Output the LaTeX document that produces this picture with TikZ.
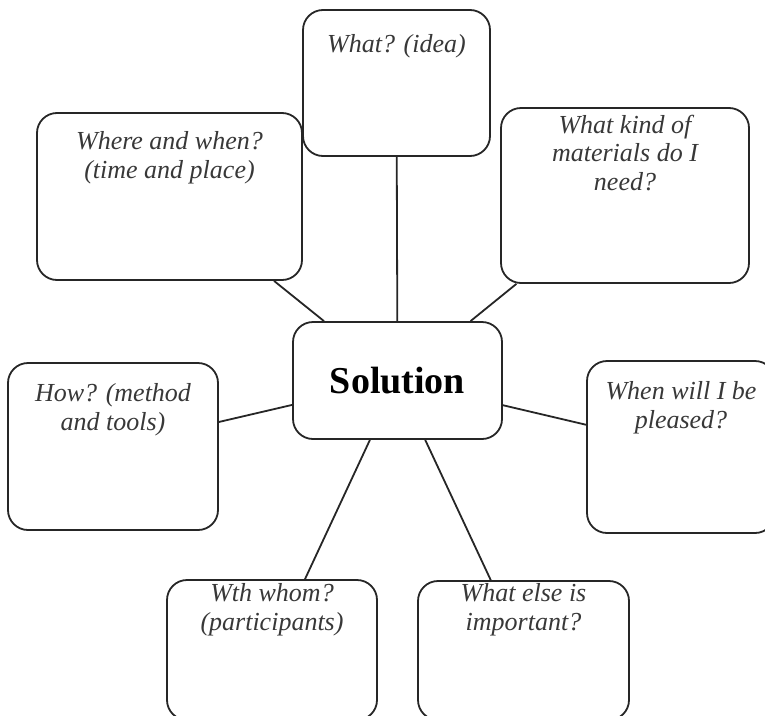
\documentclass[tikz,border=0pt]{standalone}
\usepackage{fontspec}
\newfontfamily\headfont{Liberation Serif}
\begin{document}
\begin{tikzpicture}[x=1pt,y=-1pt,
  qbox/.style={draw=black!85, line width=1.8pt, fill=white, rounded corners=20pt,
    rectangle, inner sep=0pt},
  qtext/.style={anchor=base, align=center, inner sep=0pt, text=black!78,
    font=\headfont\itshape\fontsize{26}{28.5}\selectfont},
  link/.style={draw=black!85, line width=1.8pt}]
\useasboundingbox (0,0) rectangle (765,715);
\clip (0,0) rectangle (765,715);

% centre and question boxes
\node[qbox, minimum width=209pt, minimum height=117pt,
      font=\headfont\bfseries\fontsize{38}{40}\selectfont] (sol) at (397.5,380.5) {Solution};
\node[qbox, minimum width=187pt, minimum height=146pt] (what)   at (396.5,83)   {};
\node[qbox, minimum width=265pt, minimum height=167pt] (where)  at (169.5,196.5) {};
\node[qbox, minimum width=248pt, minimum height=175pt] (mat)    at (625,195.5)  {};
\node[qbox, minimum width=210pt, minimum height=167pt] (how)    at (113,446.5)  {};
\node[qbox, minimum width=188pt, minimum height=172pt] (pleased) at (681,447)   {};
\node[qbox, minimum width=210pt, minimum height=140pt] (whom)   at (272,650)    {};
\node[qbox, minimum width=211pt, minimum height=139pt] (else)   at (523.5,650.5) {};

% spokes from the centre
\path[link] (sol) -- (what);
\path[link] (sol) -- (where);
\path[link] (sol) -- (mat);
\path[link] (sol) -- (how);
\path[link] (sol) -- (pleased);
\path[link] (sol) -- (whom);
\path[link] (sol) -- (else);

% questions (each placed at the baseline of its last line)
\node[qtext] (what-t)    at (396.5,52)  {What? (idea)};
\node[qtext] (where-t)   at (169.5,178) {Where and when?\\(time and place)};
\node[qtext] (mat-t)     at (625,190)   {What kind of\\materials do I\\need?};
\node[qtext] (how-t)     at (113,430)   {How? (method\\and tools)};
\node[qtext] (pleased-t) at (681,428)   {When will I be\\pleased?};
\node[qtext] (whom-t)    at (272,630)   {Wth whom?\\(participants)};
\node[qtext] (else-t)    at (523.5,630) {What else is\\important?};
\end{tikzpicture}
\end{document}
